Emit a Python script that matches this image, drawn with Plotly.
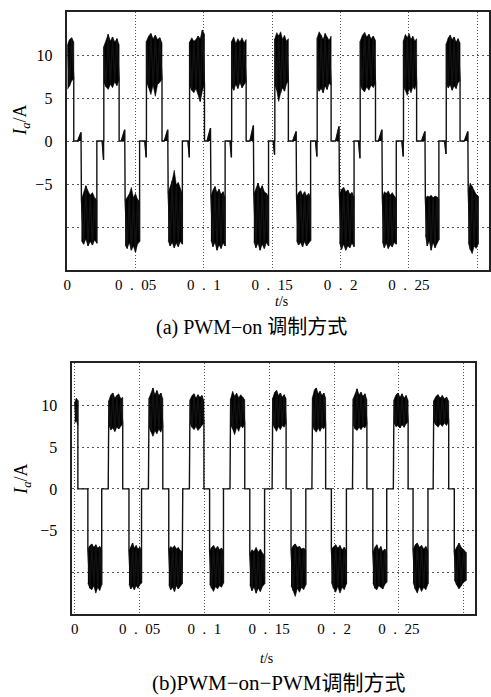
import numpy as np
import plotly.graph_objects as go

# ---------------- (a) PWM-on ----------------
a_pos_on  = [0.0, 0.0267, 0.0579, 0.0895, 0.1203, 0.1519, 0.1829, 0.2144, 0.2461, 0.2774]
a_pos_off = [0.0047, 0.0379, 0.0693, 0.1004, 0.1309, 0.1618, 0.1931, 0.2256, 0.2557, 0.2875]
a_neg_on  = [0.0103, 0.0423, 0.0738, 0.1051, 0.1365, 0.1678, 0.1992, 0.2306, 0.2621, 0.2935]
a_neg_off = [0.0216, 0.0529, 0.0842, 0.1155, 0.1473, 0.1781, 0.2099, 0.2408, 0.2720, 0.3007]

a_pos_hi = [
    [11.2, 11.8, 12.0, 11.5],
    [11.0, 11.8, 12.4, 11.6, 12.1, 11.5, 11.9, 11.2],
    [11.6, 12.2, 12.5, 11.9, 12.3, 11.8, 12.0, 11.4],
    [11.5, 12.0, 11.6, 11.8, 12.2, 11.9, 12.9, 12.4],
    [11.6, 12.1, 11.3, 11.9, 11.5, 12.0, 11.4, 11.8],
    [11.9, 12.6, 12.2, 12.7, 11.8, 12.3, 11.6, 11.9],
    [12.0, 12.7, 12.3, 11.8, 12.5, 12.1, 11.7, 12.2],
    [11.6, 12.3, 12.6, 12.1, 12.4, 11.9, 12.2, 11.7],
    [11.7, 12.4, 12.0, 12.5, 11.8, 12.2, 11.6, 11.9],
    [11.3, 12.0, 12.3, 11.8, 12.1, 11.5, 11.9, 11.4],
]
a_pos_lo = [
    [6.0, 6.4, 7.0, 7.2],
    [6.8, 6.3, 6.0, 6.6, 6.2, 6.9, 6.4, 7.1],
    [6.9, 6.2, 5.4, 6.5, 5.2, 6.6, 6.8, 7.2],
    [6.4, 5.9, 5.6, 6.1, 5.5, 4.6, 5.8, 6.6],
    [6.3, 5.9, 6.6, 6.1, 6.8, 6.2, 6.5, 6.9],
    [6.5, 5.9, 4.6, 5.6, 6.2, 5.8, 6.6, 7.0],
    [6.3, 5.8, 6.1, 5.6, 6.4, 6.0, 6.7, 6.5],
    [6.6, 6.0, 5.7, 6.3, 5.9, 6.5, 6.2, 6.8],
    [6.4, 5.9, 5.3, 6.1, 5.6, 6.3, 6.0, 6.7],
    [6.7, 6.2, 6.5, 5.9, 6.4, 6.1, 6.8, 7.0],
]
a_neg_hi = [
    [-6.8, -5.9, -5.2, -5.8, -6.3, -6.0, -6.6, -6.9],
    [-6.9, -6.5, -6.2, -5.4, -6.6, -6.1, -6.8, -7.0],
    [-6.0, -5.3, -4.6, -3.4, -5.1, -4.8, -5.6, -6.2],
    [-6.4, -5.7, -5.3, -6.0, -5.6, -6.2, -5.9, -6.6],
    [-6.2, -5.4, -4.9, -5.6, -5.2, -5.9, -6.1, -6.5],
    [-6.5, -6.0, -5.8, -6.3, -5.9, -6.4, -6.1, -6.6],
    [-6.3, -5.6, -5.4, -5.9, -5.7, -6.2, -6.0, -6.5],
    [-6.6, -5.9, -6.1, -5.8, -6.3, -6.0, -6.4, -6.7],
    [-6.7, -6.4, -6.5, -6.3, -6.6, -6.4, -6.5, -6.8],
    [-5.9, -4.9, -5.3, -5.7, -6.2, -6.4],
]
a_neg_lo = [
    [-11.6, -12.0, -11.4, -12.2, -11.7, -12.1, -11.5, -11.9],
    [-12.1, -12.5, -11.8, -12.7, -12.2, -12.9, -12.0, -11.7],
    [-11.6, -12.2, -11.8, -12.4, -11.9, -12.3, -11.7, -12.0],
    [-11.5, -12.3, -11.8, -12.7, -12.1, -12.5, -11.9, -12.2],
    [-11.7, -12.4, -11.9, -12.7, -12.0, -12.5, -11.8, -12.2],
    [-11.6, -12.1, -11.8, -12.3, -11.7, -12.2, -11.9, -11.6],
    [-11.8, -12.6, -12.0, -12.7, -12.2, -12.4, -11.9, -12.3],
    [-11.7, -12.4, -11.9, -12.5, -12.1, -12.3, -11.8, -12.0],
    [-10.9, -12.2, -11.6, -12.7, -11.8, -12.4, -12.0, -11.5],
    [-11.8, -12.6, -13.1, -12.2, -12.5, -12.0],
]
# commutation spikes in the idle (zero) intervals
a_bump_before_neg = [1.0, 1.3, 1.3, 1.5, 1.8, 1.1, 1.7, 1.3, 1.1, 1.1]
a_dip_before_pos  = [None, -2.2, -1.9, -1.9, -1.9, -1.6, -1.8, -2.0, -1.8, -1.5]

# ---------------- (b) PWM-on-PWM ----------------
b_pos_on  = [0.0, 0.0263, 0.0573, 0.0889, 0.1202, 0.1527, 0.1834, 0.2147, 0.2462, 0.2769]
b_pos_off = [0.0024, 0.0370, 0.0679, 0.0996, 0.1311, 0.1630, 0.1935, 0.2253, 0.2571, 0.2884]
b_neg_on  = [0.0101, 0.0418, 0.0725, 0.1040, 0.1350, 0.1668, 0.1979, 0.2299, 0.2609, 0.2927]
b_neg_off = [0.0208, 0.0515, 0.0828, 0.1147, 0.1464, 0.1782, 0.2095, 0.2406, 0.2724, 0.3017]

b_pos_hi = [
    [10.4, 10.9, 10.6],
    [10.6, 11.3, 11.5, 10.9, 11.2, 11.4, 10.8, 11.0],
    [10.9, 11.6, 12.1, 11.3, 11.8, 11.2, 11.5, 10.8],
    [10.7, 11.2, 11.4, 10.9, 11.3, 11.0, 11.2, 10.6],
    [10.8, 11.7, 11.1, 11.5, 10.9, 11.3, 11.0, 10.7],
    [10.9, 11.6, 11.8, 11.2, 11.5, 11.0, 11.3, 10.8],
    [11.0, 11.9, 12.1, 11.4, 11.7, 11.2, 11.5, 10.9],
    [10.8, 11.5, 12.0, 11.3, 11.6, 11.1, 11.4, 10.7],
    [10.7, 11.3, 11.5, 11.0, 11.4, 10.9, 11.2, 10.6],
    [10.6, 11.1, 11.3, 10.9, 11.2, 10.8, 11.0, 10.5],
]
b_pos_lo = [
    [7.9, 8.2, 7.6],
    [7.6, 7.1, 7.3, 6.9, 7.4, 7.2, 7.5, 7.8],
    [7.4, 6.9, 6.3, 7.0, 6.6, 7.2, 6.8, 7.5],
    [7.8, 7.4, 7.1, 7.5, 7.0, 7.3, 7.6, 7.9],
    [7.7, 7.2, 6.5, 7.4, 6.9, 7.6, 7.3, 7.8],
    [7.8, 7.3, 6.9, 7.5, 7.1, 7.6, 7.4, 7.9],
    [7.6, 7.1, 6.8, 7.3, 6.9, 7.4, 7.2, 7.7],
    [7.7, 7.2, 7.0, 7.4, 7.1, 7.5, 7.3, 7.8],
    [7.9, 7.5, 7.6, 7.3, 7.7, 7.4, 7.8, 8.0],
    [8.0, 7.7, 7.4, 7.8, 7.5, 7.9, 7.6, 8.1],
]
b_neg_hi = [
    [-7.2, -6.8, -6.6, -7.0, -6.7, -7.1, -6.9, -7.3],
    [-7.4, -6.9, -6.5, -7.1, -6.8, -7.2, -7.0, -7.5],
    [-7.3, -6.9, -7.1, -6.8, -7.2, -7.0, -7.4, -7.5],
    [-7.4, -7.0, -6.8, -7.2, -6.9, -7.3, -7.1, -7.5],
    [-7.8, -7.3, -7.5, -7.0, -7.6, -7.2, -7.7, -8.0],
    [-7.3, -6.8, -6.6, -7.0, -6.9, -7.2, -7.1, -7.4],
    [-7.2, -6.9, -6.7, -7.1, -6.8, -7.3, -7.0, -7.4],
    [-7.6, -7.0, -6.7, -7.3, -6.9, -7.5, -7.2, -7.7],
    [-7.3, -6.7, -6.5, -7.0, -6.8, -7.2, -6.9, -7.4],
    [-7.5, -6.9, -6.5, -7.0, -7.3, -7.6],
]
b_neg_lo = [
    [-11.3, -11.9, -12.1, -11.6, -12.5, -11.8, -12.2, -11.5],
    [-11.4, -12.0, -11.7, -12.1, -11.6, -11.9, -11.5, -11.3],
    [-11.5, -12.1, -11.8, -12.3, -11.6, -12.0, -11.7, -11.4],
    [-11.4, -11.9, -12.3, -11.7, -12.0, -11.6, -11.8, -11.3],
    [-11.5, -12.2, -11.8, -12.5, -11.9, -12.3, -11.7, -11.4],
    [-11.6, -12.2, -12.9, -11.9, -12.4, -11.8, -12.1, -11.5],
    [-11.2, -11.9, -12.4, -11.7, -12.5, -11.8, -12.1, -11.4],
    [-11.3, -11.9, -12.1, -11.6, -11.8, -12.0, -11.5, -11.2],
    [-11.2, -12.0, -12.5, -11.7, -12.3, -11.8, -12.1, -11.4],
    [-10.9, -11.5, -12.0, -11.6, -11.2, -11.0],
]
b_step_before_pos = [None, 1.1, 0.3, 0.4, 0.8, 1.0, 0.6, 0.9, 0.7, 0.5]
b_step_after_neg  = [None, None, -3.1, None, None, None, None, None, None, None]

# tick labels
x_tickvals = [0, 0.05, 0.1, 0.15, 0.2, 0.25, 0.3]
x_ticktext = ["0", "0\u2002.\u200205", "0\u2002.\u20021", "0\u2002.\u200215",
              "0\u2002.\u20022", "0\u2002.\u200225", ""]
y_tickvals = [-10, -5, 0, 5, 10]
y_ticktext = ["", "\u22125", "0", "5", "10"]


def build(pos_on, pos_off, neg_on, neg_off, pos_hi, pos_lo, neg_hi, neg_lo,
          bump=None, dip=None, step_pos=None, step_neg=None):
    blocks = []
    for i in range(len(pos_on)):
        blocks.append((pos_on[i], pos_off[i], pos_hi[i], pos_lo[i], +1, i))
    for i in range(len(neg_on)):
        blocks.append((neg_on[i], neg_off[i], neg_hi[i], neg_lo[i], -1, i))
    blocks.sort(key=lambda b: b[0])
    sx, sy = [], []
    fx, fy = [], []
    prev = None
    for (on, off, hi, lo, sgn, idx) in blocks:
        if prev is not None:
            p_off, p_sgn, p_idx = prev
            if p_sgn < 0 and step_neg is not None and step_neg[p_idx] is not None:
                sx += [p_off, p_off + 0.0005, p_off + 0.0005]
                sy += [step_neg[p_idx], step_neg[p_idx], 0]
            else:
                sx += [p_off]
                sy += [0]
            if sgn < 0 and bump is not None:
                v = bump[idx]
                sx += [on - 0.0028, on - 0.0003, on - 0.0003]
                sy += [0, v, 0]
                fx += [on - 0.0028, on - 0.0003, on - 0.0003, None]
                fy += [0, v, 0, None]
            if sgn > 0 and dip is not None and dip[idx] is not None:
                v = dip[idx]
                sx += [on - 0.0012, on - 0.0002, on - 0.0002]
                sy += [0, v, 0]
                fx += [on - 0.0012, on - 0.0002, on - 0.0002, None]
                fy += [0, v, 0, None]
            if sgn > 0 and step_pos is not None and step_pos[idx] is not None:
                v = step_pos[idx]
                sx += [on - 0.0005, on - 0.0005, on]
                sy += [0, v, v]
            else:
                sx += [on]
                sy += [0]
        ts = list(np.linspace(on, off, len(hi)))
        for k, t in enumerate(ts):
            sx.append(t)
            sy.append(hi[k] if k % 2 == 0 else lo[k])
        fx += ts + ts[::-1] + [None]
        fy += list(hi) + list(lo)[::-1] + [None]
        prev = (off, sgn, idx)
        sx.append(off)
        sy.append(lo[-1] if sgn > 0 else hi[-1])
    return sx, sy, fx, fy


W, H = 491, 697
def px(x):
    return x / W
def py(y):
    return 1 - y / H

fig = go.Figure()

asx, asy, afx, afy = build(a_pos_on, a_pos_off, a_neg_on, a_neg_off,
                           a_pos_hi, a_pos_lo, a_neg_hi, a_neg_lo,
                           bump=a_bump_before_neg, dip=a_dip_before_pos)
bsx, bsy, bfx, bfy = build(b_pos_on, b_pos_off, b_neg_on, b_neg_off,
                           b_pos_hi, b_pos_lo, b_neg_hi, b_neg_lo,
                           step_pos=b_step_before_pos, step_neg=b_step_after_neg)

fig.add_trace(go.Scatter(x=afx, y=afy, mode="lines", fill="toself", fillcolor="#000",
                         line=dict(color="#000", width=0.6), hoverinfo="skip",
                         xaxis="x", yaxis="y"))
fig.add_trace(go.Scatter(x=asx, y=asy, mode="lines", line=dict(color="#111", width=1.4),
                         hoverinfo="skip", xaxis="x", yaxis="y"))
fig.add_trace(go.Scatter(x=bfx, y=bfy, mode="lines", fill="toself", fillcolor="#000",
                         line=dict(color="#000", width=0.6), hoverinfo="skip",
                         xaxis="x2", yaxis="y2"))
fig.add_trace(go.Scatter(x=bsx, y=bsy, mode="lines", line=dict(color="#111", width=1.4),
                         hoverinfo="skip", xaxis="x2", yaxis="y2"))

serif = "Liberation Serif"
cjk = "Liberation Serif, Noto Sans CJK SC"
xcommon = dict(tickvals=x_tickvals, ticktext=x_ticktext, showgrid=True,
               gridcolor="#555", gridwidth=1, griddash="1px,2px", zeroline=False,
               showline=True, mirror=True, linecolor="#222", linewidth=1.5,
               ticks="", tickfont=dict(family=serif, size=15, color="#000"),
               ticklabelstandoff=0)
ycommon = dict(tickvals=y_tickvals, ticktext=y_ticktext, showgrid=True,
               gridcolor="#555", gridwidth=1, griddash="2px,3px", zeroline=False,
               showline=True, mirror=True, linecolor="#222", linewidth=1.5,
               ticks="", tickfont=dict(family=serif, size=16, color="#000"),
               ticklabelstandoff=10)

fig.update_layout(
    width=W, height=H, margin=dict(l=0, r=0, t=0, b=0),
    paper_bgcolor="white", plot_bgcolor="white", showlegend=False,
    font=dict(family=serif, size=15, color="#000"),
    xaxis=dict(domain=[px(64), px(490)], range=[0.0, 0.3087], anchor="y", **xcommon),
    yaxis=dict(domain=[py(270), py(12)], range=[-15, 15], anchor="x", **ycommon),
    xaxis2=dict(domain=[px(69), px(476)], range=[-0.0019, 0.3088], anchor="y2", **xcommon),
    yaxis2=dict(domain=[py(614), py(363)], range=[-15, 15.1], anchor="x2", **ycommon),
)

ann = []
def add_text(text, x, y, size, family, angle=0):
    ann.append(dict(text=text, x=px(x), y=py(y), xref="paper", yref="paper",
                    xanchor="center", yanchor="middle", showarrow=False,
                    textangle=angle, font=dict(family=family, size=size, color="#000")))

add_text("<i>I</i><sub><i>a</i></sub>/A", 18, 120, 18, serif, -90)
add_text("<i>I</i><sub><i>a</i></sub>/A", 18, 479, 18, serif, -90)
add_text("<i>t</i>/s", 280, 301, 14, serif)
add_text("<i>t</i>/s", 265, 658, 14, serif)
add_text("(a) PWM\u2212on 调制方式", 250, 327, 20, cjk)
add_text("(b)PWM\u2212on\u2212PWM调制方式", 278, 683, 21, cjk)
fig.update_layout(annotations=ann)

fig.write_html("out.html")
